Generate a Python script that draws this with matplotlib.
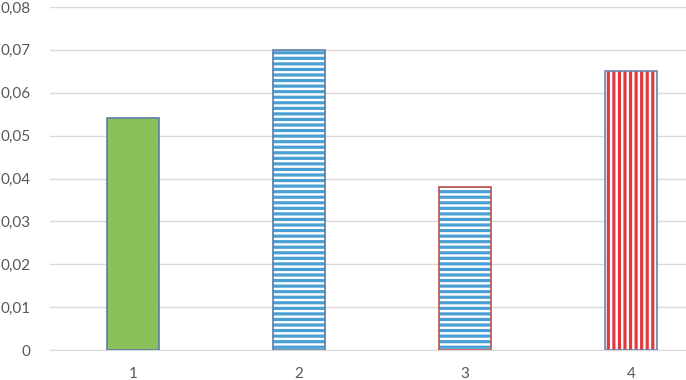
import matplotlib.pyplot as plt
from matplotlib.ticker import FuncFormatter

plt.rcParams['font.family'] = ['Lato', 'DejaVu Sans']
plt.rcParams['hatch.linewidth'] = 2.3

# Dados
categorias = [1, 2, 3, 4]
valores = [0.054, 0.070, 0.038, 0.065]
rotulos_x = ['1', '2', '3', '4']

fig = plt.figure(figsize=(6.86, 3.8), dpi=100)
ax = fig.add_axes([50 / 686, 30 / 380, 636 / 686, 343 / 380])

estilos = [
    dict(facecolor='#8cc05a', edgecolor='#5a80a8', hatch=None, hc=None),
    dict(facecolor='white', edgecolor='#5a7ca6', hatch='---', hc='#4a9fd4'),
    dict(facecolor='white', edgecolor='#c0504d', hatch='---', hc='#4a9fd4'),
    dict(facecolor='white', edgecolor='#6a86b0', hatch='|||', hc='#e03a3e'),
]

for x, v, e in zip(categorias, valores, estilos):
    if e['hatch']:
        # barra com listras
        ax.bar(x, v, width=0.31, color='white', edgecolor=e['hc'],
               hatch=e['hatch'], linewidth=0, zorder=3)
        ax.bar(x, v, width=0.31, fill=False, edgecolor=e['edgecolor'],
               linewidth=1.2, zorder=4)
    else:
        ax.bar(x, v, width=0.31, color=e['facecolor'],
               edgecolor=e['edgecolor'], linewidth=1.2, zorder=3)

ax.set_xlim(0.5, 4.33)
ax.set_ylim(0, 0.08)
ax.set_yticks([i / 100 for i in range(9)])
ax.yaxis.set_major_formatter(FuncFormatter(
    lambda v, p: '0' if v == 0 else f'{v:.2f}'.replace('.', ',')))
ax.set_xticks(categorias)
ax.set_xticklabels(rotulos_x)

ax.grid(axis='y', color='#d9d9d9', linewidth=1, zorder=0)
ax.set_axisbelow(True)
for s in ['top', 'right', 'left']:
    ax.spines[s].set_visible(False)
ax.spines['bottom'].set_color('#d9d9d9')
ax.tick_params(length=0, labelsize=11, labelcolor='#595959')
ax.tick_params(axis='y', pad=14)
ax.tick_params(axis='x', pad=12)

fig.savefig('out.png', dpi=100)
